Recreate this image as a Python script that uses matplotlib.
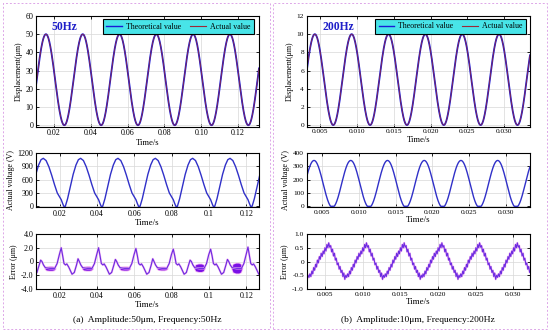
import numpy as np
import matplotlib
matplotlib.use('Agg')
import matplotlib.pyplot as plt
from matplotlib.patches import Rectangle
from matplotlib.lines import Line2D

plt.rcParams['font.family'] = ['Liberation Serif', 'DejaVu Serif']
plt.rcParams['axes.unicode_minus'] = False

# ---------------- (a) 50 Hz ----------------
disp50_amp = 25.0        # um
disp50_offset = 25.0
disp50_freq = 50.0
disp50_first_peak = 0.0156

# one voltage period, phase measured from the peak (s) -> volts
volt50_phase = [0.0, 0.0015, 0.003, 0.0045, 0.006, 0.0075, 0.0088, 0.0096, 0.0104,
                0.011, 0.0118, 0.013, 0.0145, 0.016, 0.0175, 0.0188, 0.02]
volt50_vals = [1080, 1030, 890, 700, 490, 300, 210, 150, 60,
               0, 0, 170, 440, 720, 930, 1050, 1080]
volt50_first_peak = 0.0112

# one error period, phase from the small bump (s) -> um
err50_phase = [0.0, 0.0007, 0.0015, 0.0025, 0.0050, 0.0075, 0.0088, 0.0100, 0.0110,
               0.0118, 0.0125, 0.0133, 0.0140, 0.0150, 0.0168, 0.0180, 0.0192]
err50_shape = [0.3, 0.0, -0.5, -0.9, -1.0, -1.0, -0.3, 1.0, 2.0,
               0.8, -0.3, -0.5, -0.35, -0.8, -1.85, -1.6, -0.5]
err50_first_bump = 0.0098
err50_spike = [2.0, 2.0, 2.0, 1.9, 1.8, 1.8, 2.1]      # cycles -1..5
err50_bump = [0.2, 0.2, 0.4, 0.3, 0.4, 0.2, 0.3]
# noisy band after each bump
band50_phase = [0.0022, 0.0030, 0.0045, 0.0060, 0.0070, 0.0078]
band50_profile = [0.0, 0.8, 1.0, 1.0, 0.8, 0.0]
band50_center = [-1.0, -1.0, -1.0, -1.0, -0.9, -0.95]
band50_half = [0.28, 0.28, 0.25, 0.22, 0.55, 0.72]

# ---------------- (b) 200 Hz ----------------
disp200_amp = 5.0
disp200_offset = 5.0
disp200_freq = 200.0
disp200_first_peak = 0.0043

volt200_amp = 176.0
volt200_offset = 168.0
volt200_first_peak = 0.0039

err200_phase_ms = [0.0, 0.12, 0.25, 0.38, 0.5, 0.62, 0.75, 0.88, 1.0, 1.12, 1.25, 1.38,
                   1.5, 1.62, 1.75, 1.88, 2.0, 2.12, 2.25, 2.38, 2.5, 2.62, 2.75, 2.88,
                   3.0, 3.12, 3.25, 3.38, 3.5, 3.62, 3.75, 3.88, 4.0, 4.12, 4.25, 4.38,
                   4.5, 4.62, 4.75, 4.88]
err200_shape = [-0.58, -0.45, -0.55, -0.35, -0.45, -0.22, -0.32, -0.1, -0.2, 0.05, -0.05, 0.18,
                0.08, 0.3, 0.18, 0.38, 0.28, 0.5, 0.38, 0.62, 0.5, 0.68, 0.52, 0.58,
                0.35, 0.45, 0.2, 0.3, 0.05, 0.12, -0.12, -0.05, -0.28, -0.18, -0.4, -0.32,
                -0.55, -0.42, -0.65, -0.5]
err200_first_trough = 0.0029

xt_top_a = ['0.02', '0.04', '0.06', '0.08', '0.10', '0.12']
xt_mid_a = ['0.02', '0.04', '0.06', '0.08', '0.1', '0.12']
xt_b = ['0.005', '0.010', '0.015', '0.020', '0.025', '0.030']
xt_pos_a = [0.02, 0.04, 0.06, 0.08, 0.10, 0.12]
xt_pos_b = [0.005, 0.010, 0.015, 0.020, 0.025, 0.030]
yt_disp_a = [0, 10, 20, 30, 40, 50, 60]
yt_volt_a = [0, 300, 600, 900, 1200]
yt_err_a = [-4, -2, 0, 2, 4]
yt_err_a_lbl = ['-4.0', '-2.0', '0', '2.0', '4.0']
yt_disp_b = [0, 2, 4, 6, 8, 10, 12]
yt_volt_b = [0, 100, 200, 300, 400]
yt_err_b = [-1.0, -0.5, 0, 0.5, 1.0]
yt_err_b_lbl = ['-1.0', '-0.5', '0', '0.5', '1.0']

C_THEO = '#1a1ad6'
C_ACT = '#9a2a38'
C_VOLT = '#3030c8'
C_ERR = '#6a2ce0'
C_HALO = '#f4b4f4'
C_BAND = '#7a10e6'


def tile(first, period, phase, vals, t0, t1):
    ts, vs = [], []
    k = int(np.floor((t0 - first) / period)) - 1
    while first + k * period <= t1 + period:
        for p, v in zip(phase, vals):
            ts.append(first + k * period + p)
            vs.append(v)
        k += 1
    return np.array(ts), np.array(vs)


fig = plt.figure(figsize=(5.5, 3.32), dpi=100)
W, H = 550, 332


def add_ax(x0, x1, ytop, ybot):
    return fig.add_axes([x0 / W, (H - ybot) / H, (x1 - x0) / W, (ybot - ytop) / H])


def style(ax, xlim, xt, xtl, ylim, yt, ytl, fs=5.8):
    ax.set_xlim(*xlim)
    ax.set_ylim(*ylim)
    ax.set_xticks(xt)
    ax.set_xticklabels(xtl)
    ax.set_yticks(yt)
    ax.set_yticklabels(ytl)
    ax.tick_params(direction='in', length=2, width=0.6, labelsize=fs, pad=2,
                   top=True, right=True)
    ax.grid(True, color='#d8d8d8', lw=0.5)
    ax.set_axisbelow(True)
    for s in ax.spines.values():
        s.set_linewidth(0.8)


def add_legend(ax, handles, anchor):
    lg = ax.legend(handles, ['Theoretical value', 'Actual value'], ncol=2,
                   loc='upper right', bbox_to_anchor=anchor, borderaxespad=0,
                   fontsize=5.7, fancybox=False, framealpha=1, facecolor='#48e4e8',
                   edgecolor='black', handlelength=2.0, columnspacing=1.1,
                   borderpad=0.45, handletextpad=0.5)
    lg.get_frame().set_linewidth(0.8)


# panel borders
for x0, x1 in [(3, 270), (273, 547)]:
    fig.patches.append(Rectangle((x0 / W, 3 / H), (x1 - x0) / W, 326 / H,
                                 transform=fig.transFigure, fill=False,
                                 ec='#dda6e8', lw=0.7, ls=(0, (2, 2))))

h = [Line2D([], [], color=C_THEO, lw=1.0), Line2D([], [], color=C_ACT, lw=0.8)]

# ===== left column =====
L0, L1 = 36, 259
ax1 = add_ax(L0, L1, 16, 126.7)
xl = (0.0102, 0.1314)
t = np.linspace(*xl, 1500)
d = disp50_offset + disp50_amp * np.cos(2 * np.pi * disp50_freq * (t - disp50_first_peak))
ax1.plot(t, d, color=C_THEO, lw=1.3)
ax1.plot(t, d, color=C_ACT, lw=0.5)
style(ax1, xl, xt_pos_a, xt_top_a, (-0.8, 60), yt_disp_a, [str(v) for v in yt_disp_a])
ax1.set_xlabel('Time/s', fontsize=6.2, labelpad=1)
ax1.set_ylabel('Displacement(μm)', fontsize=5.8, labelpad=2)
ax1.text(0.07, 0.9, '50Hz', transform=ax1.transAxes, fontsize=8.4, weight='bold',
         color='#1f1fc8', va='center')
add_legend(ax1, h, (0.978, 0.972))

ax2 = add_ax(L0, L1, 153, 207)
xl2 = (0.0073, 0.1267)
tv, vv = tile(volt50_first_peak, 0.02, volt50_phase, volt50_vals, *xl2)
ax2.plot(tv, vv, color=C_VOLT, lw=1.0)
style(ax2, xl2, xt_pos_a, xt_mid_a, (-15, 1200), yt_volt_a, [str(v) for v in yt_volt_a])
ax2.set_xlabel('Time/s', fontsize=6.4, labelpad=1)
ax2.set_ylabel('Actual voltage (V)', fontsize=5.8, labelpad=2)

ax3 = add_ax(L0, L1, 234, 289)
te, ve = [], []
for k in range(-1, 6):
    base = err50_first_bump + 0.02 * k
    for i, (p, v) in enumerate(zip(err50_phase, err50_shape)):
        if i == 0:
            v = err50_bump[k + 1]
        if i == 8:
            v = err50_spike[k + 1]
        te.append(base + p)
        ve.append(v)
ax3.plot(te, ve, color=C_HALO, lw=1.5)
ax3.plot(te, ve, color=C_ERR, lw=0.8)
for k in range(6):
    base = err50_first_bump + 0.02 * k
    bx = [base + p for p in band50_phase]
    hi = [band50_center[k] + band50_half[k] * f for f in band50_profile]
    lo = [band50_center[k] - band50_half[k] * f for f in band50_profile]
    ax3.fill_between(bx, lo, hi, color=C_HALO, lw=1.2)
    ax3.fill_between(bx, lo, hi, color=C_BAND, lw=0)
style(ax3, xl2, xt_pos_a, xt_mid_a, (-4, 4), yt_err_a, yt_err_a_lbl)
ax3.set_xlabel('Time/s', fontsize=6.4, labelpad=1)
ax3.set_ylabel('Error (μm)', fontsize=5.8, labelpad=2)
fig.text((L0 + L1) / 2 / W, 1 - 320 / H, '(a)  Amplitude:50μm, Frequency:50Hz',
         ha='center', va='center', fontsize=6.8)

# ===== right column =====
R0, R1 = 306.7, 530
bx1 = add_ax(R0, R1, 16, 126.7)
xr = (0.0032, 0.0335)
t = np.linspace(*xr, 1500)
d = disp200_offset + disp200_amp * np.cos(2 * np.pi * disp200_freq * (t - disp200_first_peak))
bx1.plot(t, d, color=C_THEO, lw=1.3)
bx1.plot(t, d, color=C_ACT, lw=0.5)
style(bx1, xr, xt_pos_b, xt_b, (-0.18, 12), yt_disp_b, [str(v) for v in yt_disp_b], fs=5.3)
bx1.set_xlabel('Time/s', fontsize=6.2, labelpad=1)
bx1.set_ylabel('Displacement(μm)', fontsize=5.8, labelpad=2)
bx1.text(0.07, 0.9, '200Hz', transform=bx1.transAxes, fontsize=8.4, weight='bold',
         color='#1f1fc8', va='center')
add_legend(bx1, h, (0.983, 0.975))

bx2 = add_ax(R0, R1, 153, 207)
xr2 = (0.0029, 0.0333)
t = np.linspace(*xr2, 1500)
v = volt200_offset + volt200_amp * np.cos(2 * np.pi * disp200_freq * (t - volt200_first_peak))
bx2.plot(t, np.clip(v, 0, None), color=C_VOLT, lw=1.0)
style(bx2, xr2, xt_pos_b, xt_b, (-5, 400), yt_volt_b, [str(v) for v in yt_volt_b], fs=5.3)
bx2.set_xlabel('Time/s', fontsize=6.4, labelpad=1)
bx2.set_ylabel('Actual voltage (V)', fontsize=5.8, labelpad=2)

bx3 = add_ax(R0, R1, 234, 289)
xr3 = (0.0026, 0.0322)
te, ve = tile(err200_first_trough, 0.005, [p / 1000 for p in err200_phase_ms], err200_shape, *xr3)
bx3.plot(te, ve, color=C_HALO, lw=1.4)
bx3.plot(te, ve, color=C_ERR, lw=0.75)
style(bx3, xr3, xt_pos_b, xt_b, (-1, 1), yt_err_b, yt_err_b_lbl, fs=5.3)
bx3.set_xlabel('Time/s', fontsize=6.4, labelpad=1)
bx3.set_ylabel('Error (μm)', fontsize=5.8, labelpad=2)
fig.text((R0 + R1) / 2 / W, 1 - 320 / H, '(b)  Amplitude:10μm, Frequency:200Hz',
         ha='center', va='center', fontsize=6.8)

fig.savefig('out.png', dpi=100)
